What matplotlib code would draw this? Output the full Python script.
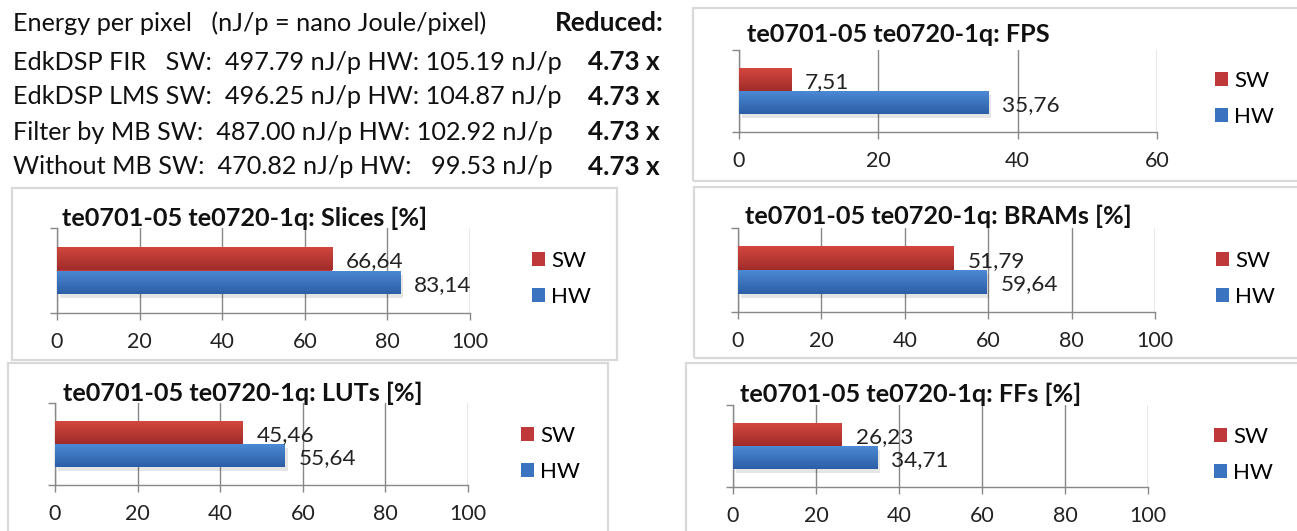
import numpy as np
import matplotlib
matplotlib.use('Agg')
import matplotlib.pyplot as plt
import matplotlib.transforms as mtransforms
from matplotlib.patches import Rectangle
from matplotlib.colors import LinearSegmentedColormap

plt.rcParams['font.family'] = ['Lato', 'DejaVu Sans']

# data
series = ['SW', 'HW']
fps = [7.51, 35.76]
slices = [66.64, 83.14]
brams = [51.79, 59.64]
luts = [45.46, 55.64]
ffs = [26.23, 34.71]

energy_names = ['EdkDSP FIR  ', 'EdkDSP LMS', 'Filter by MB', 'Without MB']
energy_sw = [497.79, 496.25, 487.00, 470.82]
energy_hw = [105.19, 104.87, 102.92, 99.53]
energy_reduced = [4.73, 4.73, 4.73, 4.73]

W, H = 1297, 531
fig = plt.figure(figsize=(W / 100, H / 100), dpi=100)

grads = [('#d4473f', '#a02c2a'), ('#4c89d4', '#2c5ea6')]
mids = ['#c0393a', '#3a73c0']
grid_c = '#888888'
fs = 15.5
txt_fs = 18.2


def px_rect(x0, x1, top, bot):
    return [x0 / W, 1 - bot / H, (x1 - x0) / W, (bot - top) / H]


def frame(x0, y0, x1, y1):
    fig.patches.append(Rectangle((x0 / W, 1 - y1 / H), (x1 - x0) / W, (y1 - y0) / H,
                                 transform=fig.transFigure, fill=False,
                                 ec='#d9d9d9', lw=1.6))


def panel(values, title, xmax, ax_px, title_px, leg_px):
    ax = fig.add_axes(px_rect(*ax_px))
    bars = ax.barh([0.14, -0.14], values, height=0.28, color=mids, zorder=3)
    # soft shadow under the lower bar
    ax.barh([-0.14], [values[1]], height=0.28, left=0, color='#000000', alpha=0.10, zorder=2,
            transform=mtransforms.offset_copy(ax.transData, fig=fig, x=2, y=-3, units='points'))
    for bar, (ctop, cbot) in zip(bars, grads):
        x, y = bar.get_x(), bar.get_y()
        w, h = bar.get_width(), bar.get_height()
        cmap = LinearSegmentedColormap.from_list('g', [ctop, cbot])
        im = ax.imshow(np.linspace(0, 1, 64)[:, None], extent=(x, x + w, y, y + h),
                       origin='upper', aspect='auto', cmap=cmap, zorder=4)
        im.set_clip_path(bar)
        lbl_tr = mtransforms.offset_copy(ax.transData, fig=fig, x=10, y=-2, units='points')
        ax.text(w, y + h / 2, f'{w:.2f}'.replace('.', ','), transform=lbl_tr,
                ha='left', va='center', fontsize=fs + 0.7, color='#222222', zorder=5)
    ax.set_xlim(0, xmax)
    ax.set_ylim(-0.5, 0.5)
    ax.set_xticks(np.arange(0, xmax + 1, 20))
    ax.set_yticks([-0.5, 0.5])
    ax.set_yticklabels([])
    ax.xaxis.grid(True, color=grid_c, lw=1, zorder=1)
    for s in ['top', 'right']:
        ax.spines[s].set_visible(False)
    for s in ['left', 'bottom']:
        ax.spines[s].set_color(grid_c)
        ax.spines[s].set_linewidth(1)
    ax.tick_params(axis='both', direction='out', length=5, color=grid_c, width=1)
    ax.tick_params(axis='x', labelsize=fs, labelcolor='#222222', pad=9)
    ax.set_facecolor('none')
    fig.text(title_px[0] / W, 1 - title_px[1] / H, title, ha='left', va='center',
             fontsize=18.2, fontweight='bold', color='#111111')
    ax.legend(bars, series, loc='center left',
              bbox_to_anchor=(leg_px[0] / W, 1 - leg_px[1] / H),
              bbox_transform=fig.transFigure, frameon=False, fontsize=fs + 0.5,
              handlelength=0.6, handleheight=0.6, handletextpad=0.25,
              labelspacing=0.7, borderpad=0, borderaxespad=0)
    return ax


# chart frames
frame(693, 8, 1300, 181)
frame(12, 188, 617, 360)
frame(694, 187, 1300, 358)
frame(8, 363, 608, 540)
frame(686, 363, 1300, 540)

panel(fps, 'te0701-05 te0720-1q: FPS', 60, (739, 1157, 50, 132), (747, 34), (1215, 99))
panel(slices, 'te0701-05 te0720-1q: Slices [%]', 100, (57, 470, 228, 313), (62, 218), (532, 279))
panel(brams, 'te0701-05 te0720-1q: BRAMs [%]', 100, (738, 1155, 228, 312), (745, 216), (1216, 279))
panel(luts, 'te0701-05 te0720-1q: LUTs [%]', 100, (55, 468, 403, 485), (63, 393), (521, 454))
panel(ffs, 'te0701-05 te0720-1q: FFs [%]', 100, (733, 1148, 405, 487), (740, 394), (1214, 455))

# energy text block
fig.text(13 / W, 1 - 23 / H, 'Energy per pixel   (nJ/p = nano Joule/pixel)', ha='left',
         va='center', fontsize=txt_fs, color='#111111')
fig.text(664 / W, 1 - 23 / H, 'Reduced:', ha='right', va='center', fontsize=18.8,
         fontweight='bold', color='#111111')
line_y = [62, 97, 132, 167]
for name, sw, hw, red, yy in zip(energy_names, energy_sw, energy_hw, energy_reduced, line_y):
    hw_s = f'{hw:.2f}'.rjust(6).replace(' ', '  ')
    fig.text(13 / W, 1 - yy / H, f'{name} SW:  {sw:.2f} nJ/p HW: {hw_s} nJ/p', ha='left',
             va='center', fontsize=txt_fs, color='#111111')
    fig.text(660 / W, 1 - yy / H, f'{red:.2f} x', ha='right', va='center',
             fontsize=18.8, fontweight='bold', color='#111111')

fig.savefig('out.png', dpi=100)
